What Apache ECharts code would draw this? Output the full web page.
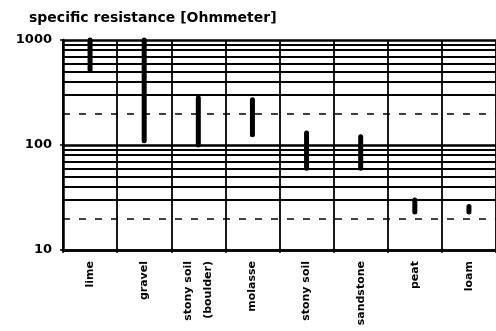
<!DOCTYPE html>
<html>
<head>
<meta charset="utf-8">
<script src="https://cdn.jsdelivr.net/npm/echarts@6/dist/echarts.min.js"></script>
<style>html,body{margin:0;padding:0;background:#fff}#c{width:496px;height:331px}</style>
</head>
<body>
<div id="c"></div>
<script>
var categories = ['lime', 'gravel', 'stony soil\n(boulder)', 'molasse', 'stony soil', 'sandstone', 'peat', 'loam'];
var lowValues = [520, 110, 100, 125, 60, 60, 23, 23];
var highValues = [1000, 1000, 280, 270, 130, 120, 30, 26];
var minorGridValues = [30, 40, 50, 60, 70, 80, 90, 300, 400, 500, 600, 700, 800, 900];
var dashedGridValues = [20, 200];
var yMin = 10, yMax = 1000;

var rangeData = categories.map(function (c, i) { return [i, lowValues[i], highValues[i]]; });

var markData = minorGridValues.map(function (v) {
  return { yAxis: v, lineStyle: { color: '#000', width: 1.8, type: 'solid' } };
}).concat(dashedGridValues.map(function (v) {
  return { yAxis: v, lineStyle: { color: '#000', width: 1.5, type: [7, 9] } };
}));

var chart = echarts.init(document.getElementById('c'), null, { renderer: 'canvas' });
chart.setOption({
  animation: false,
  backgroundColor: '#fff',
  title: {
    text: 'specific resistance [Ohmmeter]',
    left: 24, top: 6,
    textStyle: { fontFamily: 'DejaVu Sans', fontSize: 14, fontWeight: 'bold', color: '#000' }
  },
  grid: { left: 63, top: 40, width: 442, height: 210, containLabel: false },
  xAxis: {
    type: 'category',
    data: categories,
    boundaryGap: true,
    axisLine: { lineStyle: { color: '#000', width: 2.5 } },
    axisTick: { show: true, length: 3, lineStyle: { color: '#000', width: 1.5 } },
    axisLabel: {
      interval: 0, rotate: 90, margin: 11,
      fontFamily: 'DejaVu Sans', fontSize: 11, fontWeight: 'bold', color: '#000', lineHeight: 20
    },
    splitLine: { show: true, interval: 0, lineStyle: { color: '#000', width: 1.8 } }
  },
  yAxis: {
    type: 'log', logBase: 10, min: yMin, max: yMax,
    axisLine: { show: true, lineStyle: { color: '#000', width: 2.5 } },
    axisTick: { show: true, length: 3, lineStyle: { color: '#000', width: 1.5 } },
    axisLabel: {
      fontFamily: 'DejaVu Sans', fontSize: 13, fontWeight: 'bold', color: '#000', margin: 11,
      formatter: function (v) { return String(Math.round(v)); }
    },
    splitLine: { show: true, lineStyle: { color: '#000', width: 2.5 } }
  },
  series: [{
    type: 'custom',
    silent: true,
    data: rangeData,
    encode: { x: 0, y: [1, 2] },
    renderItem: function (params, api) {
      var p1 = api.coord([api.value(0), api.value(1)]);
      var p2 = api.coord([api.value(0), api.value(2)]);
      return {
        type: 'line',
        shape: { x1: p1[0], y1: p1[1], x2: p2[0], y2: p2[1] },
        style: { stroke: '#000', lineWidth: 5, lineCap: 'round' }
      };
    },
    markLine: {
      silent: true,
      symbol: 'none',
      label: { show: false },
      data: markData
    }
  }]
});
</script>
</body>
</html>
